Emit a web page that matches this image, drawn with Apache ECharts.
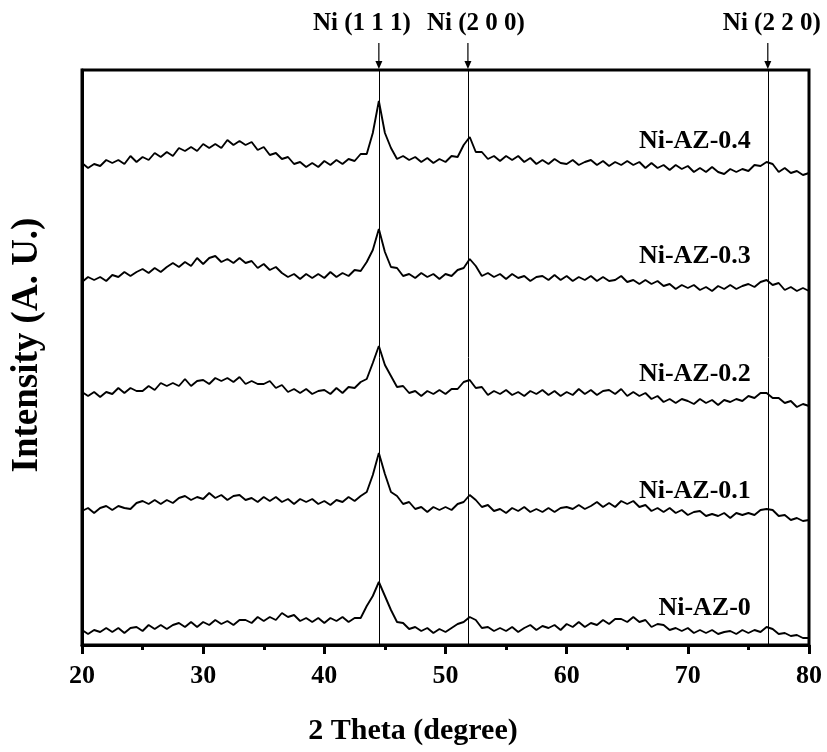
<!DOCTYPE html>
<html><head><meta charset="utf-8">
<script src="https://cdn.jsdelivr.net/npm/echarts/dist/echarts.min.js"></script>
<style>html,body{margin:0;padding:0;background:#fff}#c{width:827px;height:752px}</style>
</head><body><div id="c"></div>
<script>
// sampling grid of the patterns (degrees 2θ)
const thetaStart = 20, thetaStep = 0.5;
const xTicks = [20, 30, 40, 50, 60, 70, 80];
const sampleNames = ['Ni-AZ-0.4', 'Ni-AZ-0.3', 'Ni-AZ-0.2', 'Ni-AZ-0.1', 'Ni-AZ-0'];
const peakPositions = [44.5, 51.85, 76.6];
const peakLabels = ['Ni (1 1 1)', 'Ni (2 0 0)', 'Ni (2 2 0)'];

// intensities (a.u., stacked), one value every 0.5°
const intNiAZ04 = [
482,477,481,479,485,482,485,481,489,483,
488,485,492,488,493,489,497,494,498,494,
501,497,501,497,505,500,504,500,503,495,
498,490,492,486,488,481,483,478,482,478,
484,480,485,481,486,484,491,491,512,544,
512,497,486,489,485,488,483,487,482,486,
483,489,488,500,508,493,493,486,489,484,
489,485,489,483,487,481,485,481,486,482,
481,485,480,483,485,480,484,479,483,480,
484,480,483,477,482,477,480,475,480,476,
479,473,477,473,478,473,471,476,473,476,
474,480,479,483,481,473,477,472,474,470,
472];
const intNiAZ03 = [
363,368,365,368,364,370,368,373,369,373,
376,372,377,373,378,382,378,383,379,387,
381,387,389,383,386,382,387,382,384,377,
381,375,378,372,368,371,366,371,367,371,
367,373,368,372,369,375,374,383,395,416,
393,378,377,369,371,367,372,368,371,366,
371,369,375,377,386,379,369,372,368,371,
366,371,367,369,364,368,369,365,370,365,
369,364,368,365,369,364,368,364,365,369,
363,365,361,365,361,364,359,361,356,360,
357,360,355,358,354,359,356,360,356,359,
361,358,363,365,360,362,355,358,354,357,
354];
const intNiAZ02 = [
253,249,253,248,253,251,257,252,257,254,
254,259,255,262,259,262,259,266,259,264,
265,261,267,264,267,263,268,261,264,261,
261,264,257,260,253,256,252,256,251,254,
255,251,257,252,258,257,263,266,282,299,
280,269,258,259,252,254,249,254,251,255,
251,256,256,263,265,257,258,250,254,251,
255,250,253,249,254,251,255,250,254,249,
253,250,256,251,255,250,254,255,251,256,
249,253,249,252,246,249,243,246,242,246,
244,241,246,242,245,240,245,243,246,244,
249,247,252,252,247,247,242,244,238,241,
239];
const intNiAZ01 = [
134,137,132,137,139,135,139,137,136,142,
144,141,145,141,145,142,147,149,145,148,
146,152,147,150,145,149,150,145,147,143,
148,144,148,143,146,141,146,143,146,141,
144,140,145,143,148,144,149,153,170,192,
171,153,149,141,143,136,138,133,138,135,
138,135,141,143,150,145,138,140,134,136,
132,137,134,138,133,136,133,137,133,137,
138,136,140,136,139,143,138,142,138,144,
141,144,138,140,134,137,133,137,132,135,
130,133,134,129,131,129,132,127,132,130,
132,130,135,136,135,129,130,125,127,124,
125];
const intNiAZ0 = [
15,11,15,13,17,13,17,12,17,18,
14,20,16,20,16,20,22,18,23,18,
23,20,25,21,24,20,25,25,22,28,
24,28,25,32,28,30,24,27,23,27,
22,27,24,28,23,27,27,39,49,63,
49,35,23,22,16,18,14,17,12,16,
13,17,21,23,28,25,17,18,14,17,
14,18,13,17,20,15,19,17,20,15,
21,18,23,18,22,20,25,21,26,26,
23,28,23,25,18,21,20,15,17,14,
17,12,15,12,15,11,13,14,11,15,
12,15,13,18,16,11,12,9,10,7,
7];
const patterns = [intNiAZ04, intNiAZ03, intNiAZ02, intNiAZ01, intNiAZ0];

// ---- layout ----
const FONT = '"Liberation Serif", "Times New Roman", serif';
const sampleLabelAnchor = { x: 75.2, y: [504, 389, 271, 154, 37] };
const peakLabelShift = [-17, 8, 4];

const chart = echarts.init(document.getElementById('c'), null, { renderer: 'canvas' });

function toPairs(arr) {
  return arr.map((v, i) => [thetaStart + i * thetaStep, v]);
}

const series = patterns.map((arr, k) => ({
  name: sampleNames[k],
  type: 'line',
  data: toPairs(arr),
  showSymbol: false,
  symbol: 'none',
  silent: true,
  lineStyle: { color: '#000', width: 1.9 },
  z: 3
}));
series[0].markLine = {
  silent: true,
  symbol: 'none',
  label: { show: false },
  lineStyle: { color: '#000', width: 1, type: 'solid' },
  data: peakPositions.map(p => ({ xAxis: p }))
};

chart.setOption({
  animation: false,
  backgroundColor: '#fff',
  grid: { left: 82, right: 18, top: 70, bottom: 107, show: true, borderColor: '#000', borderWidth: 3, backgroundColor: 'transparent' },
  xAxis: {
    type: 'value', min: xTicks[0], max: xTicks[xTicks.length - 1], interval: 10,
    axisLine: { show: true, onZero: false, lineStyle: { color: '#000', width: 3 } },
    axisTick: { show: true, inside: false, length: 9, lineStyle: { color: '#000', width: 3 } },
    minorTick: { show: true, splitNumber: 2, length: 5, lineStyle: { color: '#000', width: 3 } },
    splitLine: { show: false },
    axisLabel: { color: '#000', fontFamily: FONT, fontWeight: 'bold', fontSize: 26, margin: 18 }
  },
  yAxis: {
    type: 'value', min: 0, max: 575,
    axisLine: { show: true, lineStyle: { color: '#000', width: 3 } },
    axisTick: { show: false }, axisLabel: { show: false }, splitLine: { show: false }
  },
  series
});

// annotations positioned through the axes
const g = [];
const yTop = chart.convertToPixel({ yAxisIndex: 0 }, 575);
peakPositions.forEach((p, i) => {
  const px = chart.convertToPixel({ xAxisIndex: 0 }, p);
  g.push({ type: 'line', shape: { x1: px, y1: yTop - 27, x2: px, y2: yTop - 6 }, style: { stroke: '#000', lineWidth: 1.2 } });
  g.push({ type: 'polygon', shape: { points: [[px - 3.5, yTop - 9], [px + 3.5, yTop - 9], [px, yTop - 1]] }, style: { fill: '#000' } });
  g.push({ type: 'text', x: px + peakLabelShift[i], y: 24, style: { text: peakLabels[i], font: 'bold 25px ' + FONT, fill: '#000', textAlign: 'center', textVerticalAlign: 'middle' } });
});
sampleNames.forEach((n, k) => {
  const pt = chart.convertToPixel({ xAxisIndex: 0, yAxisIndex: 0 }, [sampleLabelAnchor.x, sampleLabelAnchor.y[k]]);
  g.push({ type: 'text', x: pt[0], y: pt[1], style: { text: n, font: 'bold 26px ' + FONT, fill: '#000', textAlign: 'right', textVerticalAlign: 'middle' } });
});
g.push({ type: 'text', x: 413, y: 731, style: { text: '2 Theta (degree)', font: 'bold 30px ' + FONT, fill: '#000', textAlign: 'center', textVerticalAlign: 'middle' } });
g.push({ type: 'text', x: 27, y: 345, rotation: Math.PI / 2, style: { text: 'Intensity (A. U.)', font: 'bold 37px ' + FONT, fill: '#000', textAlign: 'center', textVerticalAlign: 'middle' } });
chart.setOption({ graphic: g });
</script>
</body></html>
